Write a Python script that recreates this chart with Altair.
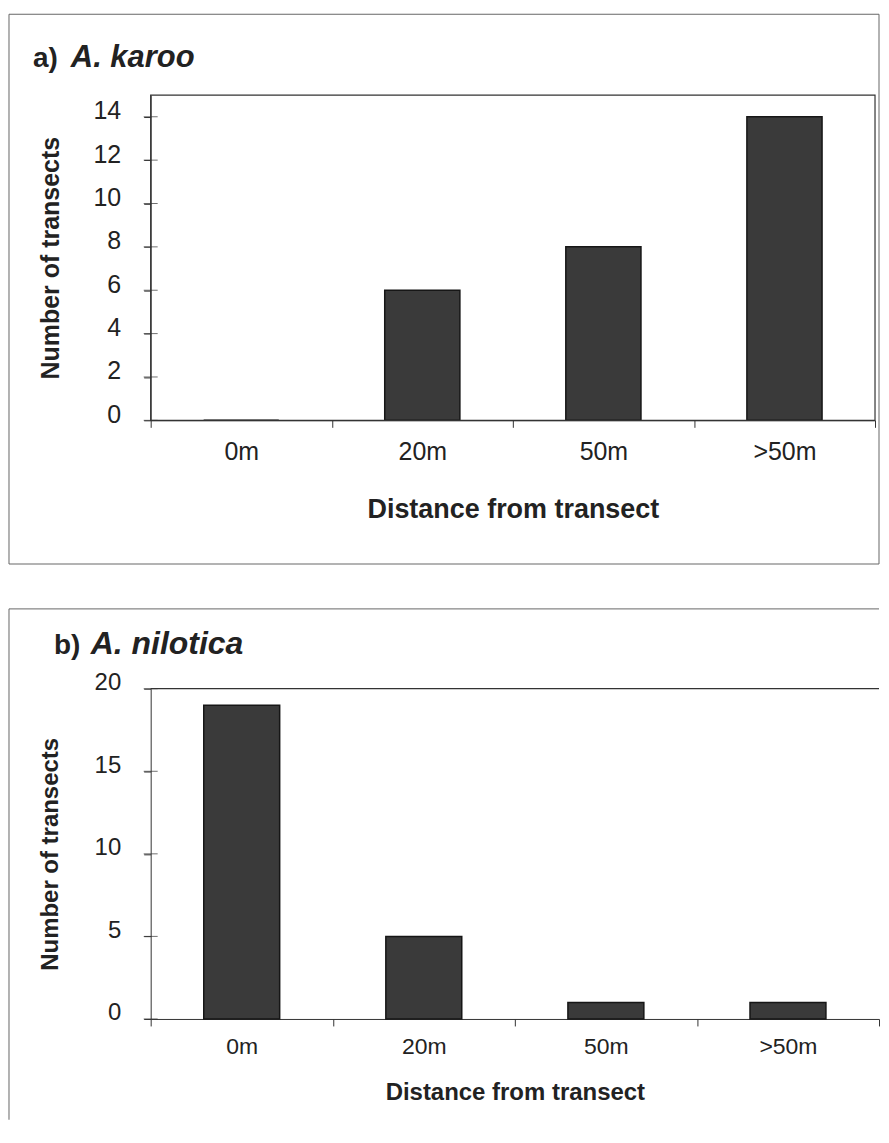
import altair as alt
import pandas as pd

# ---- data ----
categories = ["0m", "20m", "50m", ">50m"]
karoo_counts = [0, 6, 8, 14]
nilotica_counts = [19, 5, 1, 1]
karoo_ticks = [0, 2, 4, 6, 8, 10, 12, 14]
nilotica_ticks = [0, 5, 10, 15, 20]

FONT = "Liberation Sans"
INK = "#222222"
AX = "#333333"
BOX = "#666666"


def panel(counts, ticks, ymax, w, h, tag, species, g):
    df = pd.DataFrame({"d": categories, "n": counts})
    one = pd.DataFrame({"k": [0]})

    x = alt.X(
        "d:N",
        sort=categories,
        scale=alt.Scale(domain=categories, paddingInner=0, paddingOuter=0),
        axis=alt.Axis(
            title="Distance from transect",
            labelAngle=0,
            labelFont=FONT,
            labelFontSize=g["xlab"],
            labelColor=INK,
            labelPadding=g["xpad"],
            tickSize=7,
            tickColor=AX,
            tickBand="extent",
            domainColor=AX,
            grid=False,
            titleFont=FONT,
            titleFontSize=g["xtitle"],
            titleFontWeight="bold",
            titleColor=INK,
            titleX=w / 2,
            titleY=g["xtitleY"],
            titleAlign="center",
            titleBaseline="alphabetic",
        ),
    )
    y_axis = alt.Axis(
        title="Number of transects",
        values=ticks,
        format="d",
        labelFont=FONT,
        labelFontSize=g["ylab"],
        labelColor=INK,
        labelPadding=23,
        labelOffset=-6,
        tickSize=7,
        tickColor=AX,
        domainColor=AX,
        grid=False,
        titleFont=FONT,
        titleFontSize=g["ytitle"],
        titleFontWeight="bold",
        titleColor=INK,
        titleAngle=-90,
        titleX=g["ytitleX"],
        titleY=h / 2,
        titleAlign="center",
        titleBaseline="alphabetic",
    )
    y_scale = alt.Scale(domain=[0, ymax], nice=False, zero=True)

    bars = alt.Chart(df).mark_bar(
        fill="#3a3a3a", stroke="#161616", strokeWidth=1.5,
        width=alt.RelativeBandSize(g["band"]),
    ).encode(x=x, y=alt.Y("n:Q", scale=y_scale, axis=y_axis))

    inner_ticks = alt.Chart(pd.DataFrame({"n": ticks})).mark_tick(
        orient="horizontal", size=14, thickness=1, color=AX
    ).encode(y=alt.Y("n:Q", scale=y_scale, axis=y_axis), x=alt.value(0))

    layers = [bars, inner_ticks]

    b = g["border"]
    if g["full_box"]:
        layers.append(
            alt.Chart(one).mark_rect(fill="transparent", stroke=BOX, strokeWidth=1).encode(
                x=alt.value(b[0]), x2=alt.value(b[1]), y=alt.value(b[2]), y2=alt.value(b[3])
            )
        )
        layers.append(
            alt.Chart(one).mark_rect(fill="transparent", stroke=AX, strokeWidth=1.2).encode(
                x=alt.value(0), x2=alt.value(w), y=alt.value(0), y2=alt.value(h)
            )
        )
    else:
        layers.append(
            alt.Chart(one).mark_rule(color=BOX, strokeWidth=1).encode(
                x=alt.value(b[0]), x2=alt.value(b[1]), y=alt.value(b[2])
            )
        )
        layers.append(
            alt.Chart(one).mark_rule(color=BOX, strokeWidth=1).encode(
                x=alt.value(b[0]), y=alt.value(b[2]), y2=alt.value(b[3])
            )
        )
        layers.append(
            alt.Chart(one).mark_rule(color=AX, strokeWidth=1.2).encode(
                x=alt.value(0), x2=alt.value(w), y=alt.value(0)
            )
        )

    layers.append(
        alt.Chart(one).mark_text(
            text=tag, align="left", baseline="alphabetic", font=FONT,
            fontSize=28, fontWeight="bold", color=INK,
        ).encode(x=alt.value(g["tagX"]), y=alt.value(g["tagY"]))
    )
    layers.append(
        alt.Chart(one).mark_text(
            text=species, align="left", baseline="alphabetic", font=FONT,
            fontSize=g["spSize"], fontWeight="bold", fontStyle="italic", color=INK,
        ).encode(x=alt.value(g["spX"]), y=alt.value(g["tagY"]))
    )

    return alt.layer(*layers).properties(width=w, height=h)


panel_a = panel(
    karoo_counts, karoo_ticks, 15, 726, 326, "a)", "A. karoo",
    dict(xlab=25, ylab=25, xpad=12, xtitle=27, ytitle=25, xtitleY=97, ytitleX=-92,
         band=0.415, border=(-142, 730, -81, 470), full_box=True,
         tagX=-118, tagY=-28, spX=-80, spSize=31),
)
panel_b = panel(
    nilotica_counts, nilotica_ticks, 20, 730, 331, "b)", "A. nilotica",
    dict(xlab=23, ylab=24, xpad=10, xtitle=24, ytitle=24, xtitleY=81, ytitleX=-93,
         band=0.417, border=(-142, 730, -80, 432), full_box=False,
         tagX=-97, tagY=-35, spX=-60, spSize=32),
)

chart = (
    alt.vconcat(panel_a, panel_b, spacing=43)
    .properties(padding={"left": 0, "top": 4, "right": 0, "bottom": 0}, background="white")
    .configure_view(stroke="transparent")
)

chart.save("out.html", embed_options={"renderer": "svg", "actions": False})
